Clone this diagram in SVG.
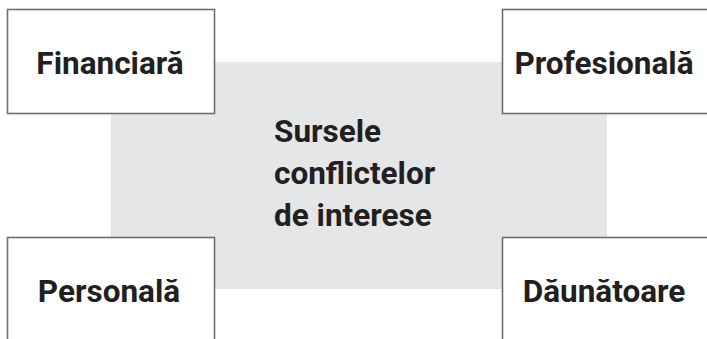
<svg xmlns="http://www.w3.org/2000/svg" width="707" height="339" viewBox="0 0 707 339">
<style>
.box{fill:#fff;stroke:#6e6e6e;stroke-width:1.6}
.lbl{font-family:Roboto,"Liberation Sans",sans-serif;font-weight:bold;font-size:31.5px;fill:#231f20;text-anchor:middle}
.ctr{font-family:Roboto,"Liberation Sans",sans-serif;font-weight:bold;font-size:31.5px;fill:#231f20}
</style>
<rect width="707" height="339" fill="#fff"/>
<g id="center">
<rect x="111" y="62" width="496" height="227" fill="#e5e6e8"/>
<text class="ctr" x="274" y="142">Sursele</text>
<text class="ctr" x="274" y="184">conflictelor</text>
<text class="ctr" x="274" y="226">de interese</text>
</g>
<g id="connectors"></g>
<g id="financiara">
<rect class="box" x="7.5" y="9.5" width="207" height="104"/>
<text class="lbl" x="110" y="74">Financiară</text>
</g>
<g id="profesionala">
<rect class="box" x="502.5" y="9.5" width="208" height="104"/>
<text class="lbl" x="604" y="74">Profesională</text>
</g>
<g id="personala">
<rect class="box" x="7.5" y="237.5" width="207" height="105"/>
<text class="lbl" x="109" y="302">Personală</text>
</g>
<g id="daunatoare">
<rect class="box" x="502.5" y="237.5" width="208" height="105"/>
<text class="lbl" x="604" y="302">Dăunătoare</text>
</g>
</svg>
